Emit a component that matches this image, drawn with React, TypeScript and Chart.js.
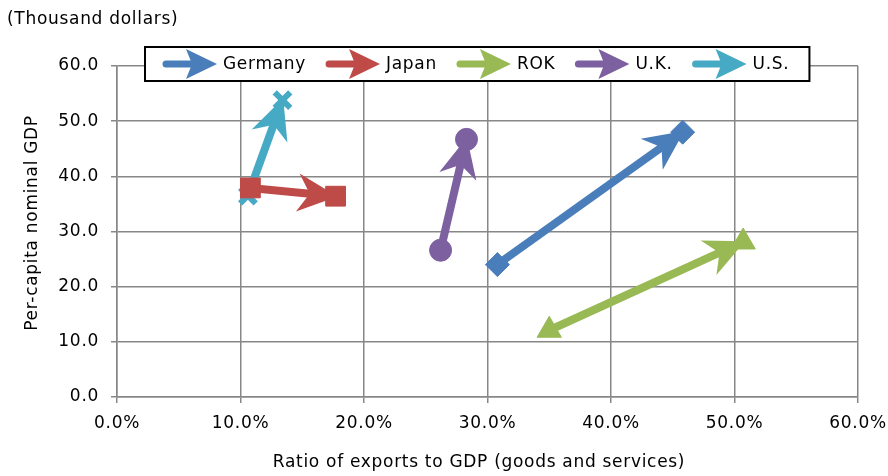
import React, { useEffect, useRef } from 'react';
import { Chart, registerables } from 'chart.js';

Chart.register(...registerables);

// ---- data ----
const seriesNames = ['Germany', 'Japan', 'ROK', 'U.K.', 'U.S.'];
const germanyX = [30.8, 45.8];
const germanyY = [24.0, 48.0];
const japanX = [10.8, 17.7];
const japanY = [37.9, 36.4];
const rokX = [35.0, 50.7];
const rokY = [12.1, 28.1];
const ukX = [26.2, 28.3];
const ukY = [26.6, 46.7];
const usX = [10.6, 13.4];
const usY = [36.5, 53.8];

const xTickValues = [0, 10, 20, 30, 40, 50, 60];
const xTickLabels = ['0.0%', '10.0%', '20.0%', '30.0%', '40.0%', '50.0%', '60.0%'];
const yTickValues = [0, 10, 20, 30, 40, 50, 60];
const yTickLabels = ['0.0', '10.0', '20.0', '30.0', '40.0', '50.0', '60.0'];

const xTitle = 'Ratio of exports to GDP (goods and services)';
const yTitle = 'Per-capita nominal GDP';
const unitLabel = '(Thousand dollars)';

const colors = ['#4a7ebb', '#be4b48', '#98b954', '#7d60a0', '#46aac5'];

const FONT_FAMILY = '"DejaVu Sans", Verdana, sans-serif';
const FONT_SIZE = 17;
const LETTER_SPACING = '0.7px';

function pts(xs: number[], ys: number[]) {
  return xs.map((x, i) => ({ x, y: ys[i] }));
}

function drawArrowHead(
  ctx: CanvasRenderingContext2D,
  x1: number, y1: number, x2: number, y2: number,
  back: number, half: number, notch: number, color: string
) {
  const dx = x2 - x1, dy = y2 - y1;
  const len = Math.hypot(dx, dy) || 1;
  const ux = dx / len, uy = dy / len;
  const nx = -uy, ny = ux;
  const tx = x2 + ux * 2, ty = y2 + uy * 2;
  ctx.save();
  ctx.fillStyle = color;
  ctx.beginPath();
  ctx.moveTo(tx, ty);
  ctx.lineTo(tx - ux * back + nx * half, ty - uy * back + ny * half);
  ctx.lineTo(tx - ux * notch, ty - uy * notch);
  ctx.lineTo(tx - ux * back - nx * half, ty - uy * back - ny * half);
  ctx.closePath();
  ctx.fill();
  ctx.restore();
}

function setSpacing(chart: any) {
  const ctx: any = chart.ctx;
  if (ctx && 'letterSpacing' in ctx) ctx.letterSpacing = LETTER_SPACING;
}

const overlayPlugin = {
  id: 'overlay',
  beforeUpdate(chart: any) {
    setSpacing(chart);
  },
  beforeLayout(chart: any) {
    setSpacing(chart);
  },
  beforeDraw(chart: any) {
    setSpacing(chart);
  },
  afterDatasetDraw(chart: any, args: any) {
    const ds = chart.data.datasets[args.index];
    const data = ds.data as { x: number; y: number }[];
    const n = data.length;
    if (n < 2) return;
    const xs = chart.scales.x, ys = chart.scales.y;
    const x1 = xs.getPixelForValue(data[n - 2].x), y1 = ys.getPixelForValue(data[n - 2].y);
    const x2 = xs.getPixelForValue(data[n - 1].x), y2 = ys.getPixelForValue(data[n - 1].y);
    drawArrowHead(chart.ctx, x1, y1, x2, y2, 40, 19, 28, ds.borderColor);
  },
  afterDraw(chart: any) {
    const ctx: CanvasRenderingContext2D = chart.ctx;
    ctx.save();
    (ctx as any).letterSpacing = LETTER_SPACING;
    ctx.font = `${FONT_SIZE}px ${FONT_FAMILY}`;
    ctx.fillStyle = '#000';
    ctx.textBaseline = 'middle';
    ctx.textAlign = 'left';
    ctx.fillText(unitLabel, 7, 20);

    // axis titles
    ctx.textAlign = 'center';
    ctx.fillText(xTitle, 479, 463);
    ctx.save();
    ctx.translate(33, 223);
    ctx.rotate(-Math.PI / 2);
    ctx.fillText(yTitle, 0, 0);
    ctx.restore();
    ctx.textAlign = 'left';

    // legend
    const boxLeft = 145, boxTop = 47, boxH = 34;
    const cy = boxTop + boxH / 2;
    let x = 163;
    const items: { x: number; tx: number }[] = [];
    seriesNames.forEach((name) => {
      const w = ctx.measureText(name).width;
      items.push({ x, tx: x + 60 });
      x = x + 60 + w + 20;
    });
    const boxRight = x;
    ctx.fillStyle = '#fff';
    ctx.fillRect(boxLeft, boxTop, boxRight - boxLeft, boxH);
    ctx.strokeStyle = '#000';
    ctx.lineWidth = 2;
    ctx.strokeRect(boxLeft, boxTop, boxRight - boxLeft, boxH);
    seriesNames.forEach((name, i) => {
      const it = items[i];
      ctx.strokeStyle = colors[i];
      ctx.lineWidth = 7;
      ctx.lineCap = 'round';
      ctx.beginPath();
      ctx.moveTo(it.x + 3, cy);
      ctx.lineTo(it.x + 36, cy);
      ctx.stroke();
      drawArrowHead(ctx, it.x, cy, it.x + 52, cy, 31, 15, 25, colors[i]);
      ctx.fillStyle = '#000';
      ctx.fillText(name, it.tx, cy + 1);
    });
    ctx.restore();
  },
};

const pointStyles = ['rectRot', 'rect', 'triangle', 'circle', 'crossRot'];
const pointRadii = [12, 14, 14, 11, 11];
const pointBorders = [1, 1, 1, 1, 6];

export default function App() {
  const ref = useRef<HTMLCanvasElement>(null);
  useEffect(() => {
    if (!ref.current) return;
    const xsAll = [germanyX, japanX, rokX, ukX, usX];
    const ysAll = [germanyY, japanY, rokY, ukY, usY];
    const tickFont = { family: FONT_FAMILY, size: FONT_SIZE };
    const chart = new Chart(ref.current, {
      type: 'scatter',
      data: {
        datasets: seriesNames.map((name, i) => ({
          label: name,
          data: pts(xsAll[i], ysAll[i]),
          showLine: true,
          borderColor: colors[i],
          backgroundColor: colors[i],
          borderWidth: 8,
          pointStyle: pointStyles[i] as any,
          pointRadius: pointRadii[i],
          pointBorderWidth: pointBorders[i],
          pointBackgroundColor: colors[i],
          pointBorderColor: colors[i],
        })),
      },
      plugins: [overlayPlugin],
      options: {
        animation: false,
        responsive: false,
        maintainAspectRatio: false,
        layout: { padding: { top: 66, right: 30, left: 0, bottom: 0 } },
        plugins: {
          legend: { display: false },
          tooltip: { enabled: false },
        },
        scales: {
          x: {
            type: 'linear',
            min: 0,
            max: 60,
            afterBuildTicks: (s: any) => {
              s.ticks = xTickValues.map((v) => ({ value: v }));
            },
            ticks: {
              callback: (_v: any, i: number) => xTickLabels[i],
              font: tickFont,
              color: '#000',
              padding: 10,
              maxRotation: 0,
              autoSkip: false,
            },
            grid: { color: '#878787', lineWidth: 1.5, tickLength: 6 },
            border: { color: '#878787', width: 1.5 },
            title: { display: false, text: xTitle },
            afterFit: (s: any) => {
              s.height = 79;
              s.paddingLeft = 0;
              s.paddingRight = 0;
            },
          },
          y: {
            type: 'linear',
            min: 0,
            max: 60,
            afterBuildTicks: (s: any) => {
              s.ticks = yTickValues.map((v) => ({ value: v }));
            },
            ticks: {
              callback: (_v: any, i: number) => yTickLabels[i],
              font: tickFont,
              color: '#000',
              padding: 12,
              autoSkip: false,
            },
            grid: { color: '#878787', lineWidth: 1.5, tickLength: 6 },
            border: { color: '#878787', width: 1.5 },
            title: { display: false, text: yTitle },
            afterFit: (s: any) => {
              s.width = 117;
              s.paddingTop = 0;
              s.paddingBottom = 0;
            },
          },
        },
      },
    });
    return () => chart.destroy();
  }, []);
  return (
    <div style={{ position: 'absolute', left: 0, top: 0, width: 888, height: 476 }}>
      <canvas ref={ref} width={888} height={476} style={{ width: 888, height: 476 }} />
    </div>
  );
}
